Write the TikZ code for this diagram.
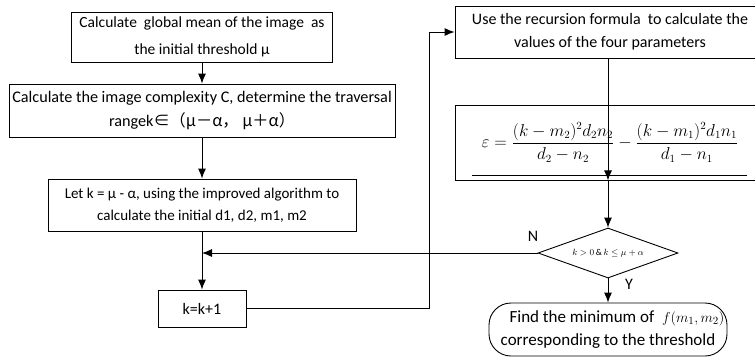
\documentclass[tikz,border=0pt]{standalone}
\usepackage{fontspec}
\setmainfont{Carlito}
\newfontfamily\cjk{Noto Sans CJK SC}
\usetikzlibrary{arrows.meta,shapes.geometric}
\tikzset{
  box/.style={draw,line width=0.9pt,align=center,inner sep=0pt,
    font=\fontsize{16}{23}\selectfont},
  choice/.style={draw,diamond,line width=0.9pt,inner sep=0pt,aspect=2.8,
    minimum width=140pt,minimum height=50pt,font=\fontsize{9}{10}\selectfont},
  terminal/.style={box,rounded corners=22pt},
  mark label/.style={font=\fontsize{16}{18}\selectfont}
}
\begin{document}
\begin{tikzpicture}[x=1pt,y=-1pt,>={Latex[length=10pt,width=8pt]},line width=0.9pt]
  \useasboundingbox (0,0) rectangle (755,360);
  \draw
    (202,37) node[box,minimum width=261pt,minimum height=50pt,
      font=\fontsize{15.5}{27}\selectfont] (mean)
      {Calculate\ \ global mean of the image\ \ as\\the initial threshold μ}
    (202,110.5) node[box,minimum width=386pt,minimum height=53pt,
      font=\fontsize{16.2}{24}\selectfont] (complexity)
      {Calculate the image complexity C, determine the traversal\\
       rangek{\cjk ∈（μ－α，\ μ＋α）}}
    (202,205) node[box,minimum width=308pt,minimum height=52pt,
      font=\fontsize{15}{22}\selectfont] (init)
      {Let k = μ - α, using the improved algorithm to\\
       calculate the initial d1, d2, m1, m2}
    (202,308.5) node[box,minimum width=88pt,minimum height=37pt] (incr) {k=k+1}
    (610,32) node[box,minimum width=310pt,minimum height=52pt] (recur)
      {Use the recursion formula\ \ to calculate the\\values of the four parameters}
    (610,142.5) node[box,minimum width=310pt,minimum height=75pt] (formula)
      {$\displaystyle \fontsize{18}{22}\selectfont
       \varepsilon=\frac{(k-m_2)^2d_2n_2}{d_2-n_2}-\frac{(k-m_1)^2d_1n_1}{d_1-n_1}$}
    (608,253) node[choice] (test) {$k>0\,\&\,k\leq\mu+\alpha$}
    (608,329.5) node[terminal,minimum width=238pt,minimum height=53pt,
      font=\fontsize{17}{23}\selectfont] (result)
      {\hspace*{18pt}Find the minimum of\ \ {\fontsize{15}{17}\selectfont$f(m_1,m_2)$}\\
       corresponding to the threshold}
    (533,236) node[mark label] (no) {N}
    (629,284) node[mark label] (yes) {Y};
  \coordinate (join) at (202,253);
  \coordinate (loop) at (429,308.5);
  \draw (472,175) -- (747,175);
  \begin{scope}[->]
    \draw (mean) to (complexity);
    \draw (complexity) to (init);
    \draw (init) to (incr);
    \draw (test.west) to (join);
    \draw (incr.east) -- (loop) |- (recur.west);
    \draw (recur.south -| test) to (formula.south -| test);
    \draw (formula.south -| test) to (test);
    \draw (test) to (result);
  \end{scope}
\end{tikzpicture}
\end{document}
